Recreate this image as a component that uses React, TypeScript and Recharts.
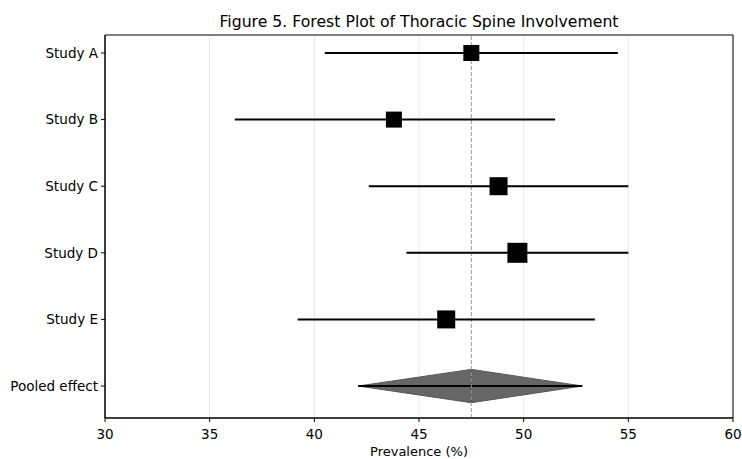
import { ComposedChart, Scatter, ErrorBar, XAxis, YAxis, CartesianGrid, ReferenceLine, ReferenceArea } from 'recharts'

const studies = ['Study A', 'Study B', 'Study C', 'Study D', 'Study E']
const estimates = [47.5, 43.8, 48.8, 49.7, 46.3]
const lower = [40.5, 36.2, 42.6, 44.4, 39.2]
const upper = [54.5, 51.5, 55.0, 55.0, 53.4]
const squareSizes = [16, 16, 18, 20, 18]

const pooledLabel = 'Pooled effect'
const pooledEstimate = 47.5
const pooledLower = 42.1
const pooledUpper = 52.8

const rowLabels = [...studies, pooledLabel]
const xTicks = [30, 35, 40, 45, 50, 55, 60]

const studyData = studies.map((name, i) => ({
  name,
  x: estimates[i],
  y: i,
  err: [estimates[i] - lower[i], upper[i] - estimates[i]],
  size: squareSizes[i],
}))

const pooledRow = studies.length
const pooledData = [
  { name: pooledLabel, x: pooledEstimate, y: pooledRow, err: [pooledEstimate - pooledLower, pooledUpper - pooledEstimate] },
]

const font = 'DejaVu Sans, sans-serif'

const Square = (props: any) => {
  const { cx, cy, payload } = props
  const s = payload.size
  return <rect x={cx - s / 2} y={cy - s / 2} width={s} height={s} fill="#000" />
}

const Nothing = () => <g />

// half-diamond shapes, drawn inside the area rect
const LeftHalf = (props: any) => {
  const { x, y, width, height } = props
  return (
    <polygon
      points={`${x},${y + height / 2} ${x + width},${y} ${x + width},${y + height}`}
      fill="#666" stroke="#555" strokeWidth={1}
    />
  )
}
const RightHalf = (props: any) => {
  const { x, y, width, height } = props
  return (
    <polygon
      points={`${x},${y} ${x + width},${y + height / 2} ${x},${y + height}`}
      fill="#666" stroke="#555" strokeWidth={1}
    />
  )
}

export default function App() {
  return (
    <div style={{ position: 'absolute', left: 0, top: 0, width: 742, height: 459, background: '#fff' }}>
      <div style={{ position: 'absolute', left: 105, width: 628, top: 12, textAlign: 'center', fontFamily: font, fontSize: 15.7, color: '#000' }}>
        Figure 5. Forest Plot of Thoracic Spine Involvement
      </div>
      <ComposedChart width={742} height={459} margin={{ top: 35, right: 9, bottom: 0, left: 0 }}>
        <CartesianGrid horizontal={false} stroke="#e8e8e8" />
        <XAxis
          type="number"
          dataKey="x"
          domain={[30, 60]}
          ticks={xTicks}
          allowDataOverflow
          height={41}
          tickSize={4}
          tickMargin={7}
          stroke="#000"
          tick={{ fontSize: 13.5, fill: '#000', fontFamily: font }}
        />
        <YAxis
          type="number"
          dataKey="y"
          domain={[-0.27, 5.48]}
          reversed
          allowDataOverflow
          ticks={rowLabels.map((_, i) => i)}
          tickFormatter={(v: number) => rowLabels[v] ?? ''}
          width={105}
          tickSize={4}
          tickMargin={3}
          stroke="#000"
          tick={{ fontSize: 13.5, fill: '#000', fontFamily: font }}
        />
        <ReferenceArea x1={pooledLower} x2={pooledEstimate} y1={pooledRow - 0.25} y2={pooledRow + 0.25} shape={LeftHalf} />
        <ReferenceArea x1={pooledEstimate} x2={pooledUpper} y1={pooledRow - 0.25} y2={pooledRow + 0.25} shape={RightHalf} />
        <Scatter data={pooledData} shape={Nothing} isAnimationActive={false}>
          <ErrorBar dataKey="err" direction="x" width={0} stroke="#000" strokeWidth={2} />
        </Scatter>
        <ReferenceLine x={pooledEstimate} stroke="#999" strokeDasharray="4 2" strokeWidth={1} />
        <Scatter data={studyData} shape={Square} isAnimationActive={false}>
          <ErrorBar dataKey="err" direction="x" width={0} stroke="#000" strokeWidth={2} />
        </Scatter>
        <ReferenceArea x1={30} x2={60} y1={-0.27} y2={5.48} fill="none" stroke="#000" strokeWidth={1} fillOpacity={0} />
      </ComposedChart>
      <div style={{ position: 'absolute', left: 105, width: 628, top: 444, textAlign: 'center', fontFamily: font, fontSize: 13, color: '#000' }}>
        Prevalence (%)
      </div>
    </div>
  )
}
